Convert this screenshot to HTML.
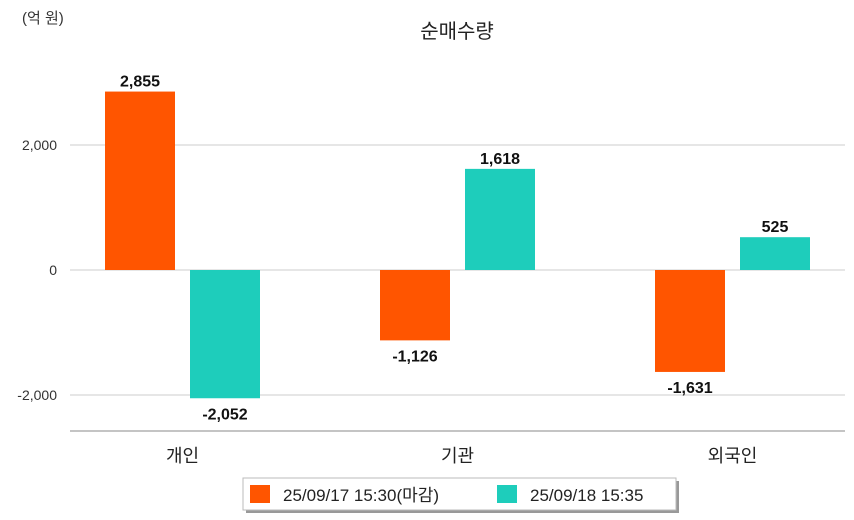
<!DOCTYPE html>
<html><head><meta charset="utf-8"><style>
body{margin:0;background:#fff;}
svg{display:block;font-family:"Liberation Sans","Noto Sans CJK KR",sans-serif;}
</style></head><body>
<svg width="854" height="520">
<text x="22" y="23" font-size="15" fill="#333">(억 원)</text>
<text x="457" y="38" font-size="20" text-anchor="middle" fill="#222">순매수량</text>
<g id="grid"></g>
<line x1="70" y1="431" x2="845" y2="431" stroke="#888" stroke-width="1"/>
<g id="bars"></g>
<g>
<rect x="246" y="481" width="433" height="32" fill="#999"/>
<rect x="243" y="478" width="433" height="32" fill="#fff" stroke="#bbb"/>
<rect x="250" y="485" width="20" height="18" fill="#ff5500"/>
<text x="283" y="501" font-size="17" fill="#222">25/09/17 15:30(마감)</text>
<rect x="497" y="485" width="20" height="18" fill="#1ecdbb"/>
<text x="530" y="501" font-size="17" fill="#222">25/09/18 15:35</text>
</g>
</svg>
<script>
const categories=["개인","기관","외국인"];
const series1=[2855,-1126,-1631];
const series2=[-2052,1618,525];
const ticks=[-2000,0,2000];
const tickLabels=["-2,000","0","2,000"];
const NS="http://www.w3.org/2000/svg";
function y(v){return 270-v*0.0625;}
function xc(i){return 182.5+i*275;}
function mk(t,a,p){const e=document.createElementNS(NS,t);for(const k in a)e.setAttribute(k,a[k]);p.appendChild(e);return e;}
const g=document.getElementById('grid'),b=document.getElementById('bars');
ticks.forEach((t,i)=>{
 const l=mk('line',{x1:70,x2:845,y1:y(t),y2:y(t),stroke:'#ccc'},g);
 
 
 const tx=mk('text',{x:57,y:y(t)+5,'font-size':14,'text-anchor':'end',fill:'#333'},g);
 tx.textContent=tickLabels[i];
 
 
});
function fmt(v){return v.toLocaleString('en-US');}
categories.forEach((c,i)=>{
 [[series1,-77.5,'#ff5500'],[series2,7.5,'#1ecdbb']].forEach(([s,off,col],j)=>{
  const v=s[i],x=xc(i)+off,top=Math.min(y(v),y(0)),h=Math.abs(y(v)-y(0));
  const r=mk('rect',{x:x,y:top,width:70,height:h,fill:col},b);
  
  
  const ly=v>=0?y(v)-5:y(v)+21;
  const t=mk('text',{x:x+35,y:ly,'font-size':16,'font-weight':'bold','text-anchor':'middle',fill:'#111'},b);
  t.textContent=fmt(v);
  
  
 });
 const ct=mk('text',{x:xc(i),y:462,'font-size':18,'text-anchor':'middle',fill:'#222'},b);
 ct.textContent=c;
 
 
});
</script>
</body></html>
